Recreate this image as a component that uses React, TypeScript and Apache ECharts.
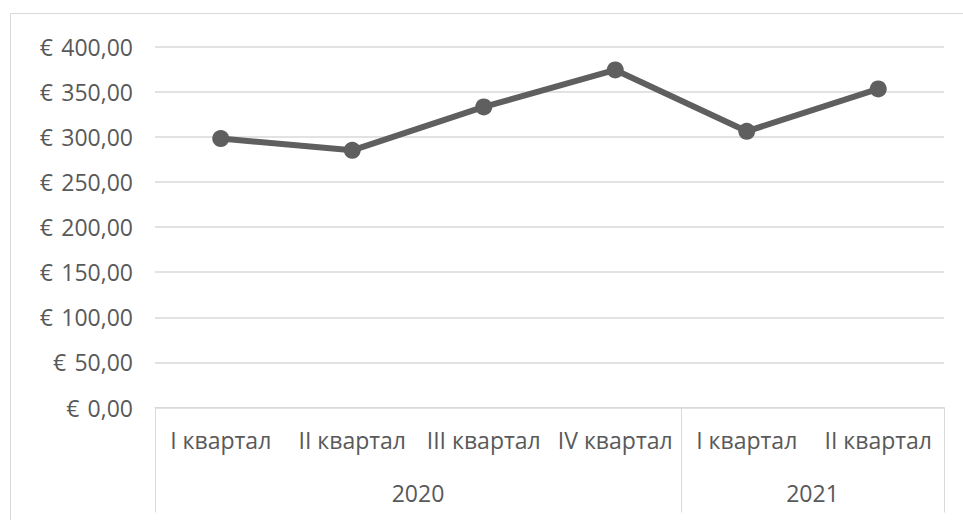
import React, { useEffect, useRef } from "react";
import * as echarts from "echarts";

const quarters = ["I квартал", "II квартал", "III квартал", "IV квартал", "I квартал", "II квартал"];
const years = ["2020", "2021"];
const quarterYear = [0, 0, 0, 0, 1, 1];
const values = [298, 285, 333, 374, 306, 353];

const yTicks = { min: 0, max: 400, interval: 50 };

export default function App() {
  const ref = useRef<HTMLDivElement>(null);
  useEffect(() => {
    if (!ref.current) return;
    const chart = echarts.init(ref.current, null, { renderer: "svg" });
    const bounds: number[] = [0];
    const centres: number[] = [];
    years.forEach((_, yi) => {
      const idx = quarterYear.map((q, i) => (q === yi ? i : -1)).filter((i) => i >= 0);
      const start = idx[0];
      const end = idx[idx.length - 1] + 1;
      bounds.push(end);
      centres.push((start + end) / 2);
    });
    const font = "'Open Sans', sans-serif";
    const txt = "#595959";
    const fs = 23;
    chart.setOption({
      animation: false,
      backgroundColor: "#ffffff",
      graphic: [
        {
          type: "rect",
          shape: { x: 10.5, y: 13.5, width: 1200, height: 800 },
          style: { fill: "none", stroke: "#d9d9d9", lineWidth: 1 },
          silent: true,
        },
      ],
      grid: { left: 155, right: 19, top: 46.5, bottom: 112.5, containLabel: false },
      xAxis: [
        {
          type: "category",
          data: quarters,
          boundaryGap: true,
          axisLine: { show: true, lineStyle: { color: "#d9d9d9", width: 1 } },
          axisTick: { show: false },
          axisLabel: { color: txt, fontSize: fs, fontFamily: font, margin: 21, interval: 0 },
          splitLine: { show: false },
        },
        {
          type: "value",
          position: "bottom",
          min: 0,
          max: quarters.length,
          axisLine: { show: false },
          axisTick: {
            show: true,
            customValues: bounds,
            length: 105,
            lineStyle: { color: "#d9d9d9", width: 1 },
          },
          axisLabel: {
            show: true,
            customValues: centres,
            formatter: (v: number) => {
              const i = centres.findIndex((c) => Math.abs(c - v) < 1e-6);
              return i >= 0 ? years[i] : "";
            },
            color: txt,
            fontSize: fs,
            fontFamily: font,
            margin: 74,
          },
          splitLine: { show: false },
        },
      ],
      yAxis: {
        type: "value",
        min: yTicks.min,
        max: yTicks.max,
        interval: yTicks.interval,
        axisLine: { show: false },
        axisTick: { show: false },
        axisLabel: {
          color: txt,
          fontSize: fs,
          fontFamily: font,
          margin: 22,
          formatter: (v: number) => "€ \u200a" + v.toFixed(2).replace(".", ","),
        },
        splitLine: { lineStyle: { color: "#d9d9d9", width: 1.5 } },
      },
      series: [
        {
          type: "line",
          xAxisIndex: 0,
          data: values,
          symbol: "circle",
          symbolSize: 17,
          lineStyle: { color: "#5f5f5f", width: 6 },
          itemStyle: { color: "#5f5f5f" },
        },
      ],
    });
    return () => chart.dispose();
  }, []);
  return <div ref={ref} style={{ width: 963, height: 520, position: "absolute", left: 0, top: 0 }} />;
}
